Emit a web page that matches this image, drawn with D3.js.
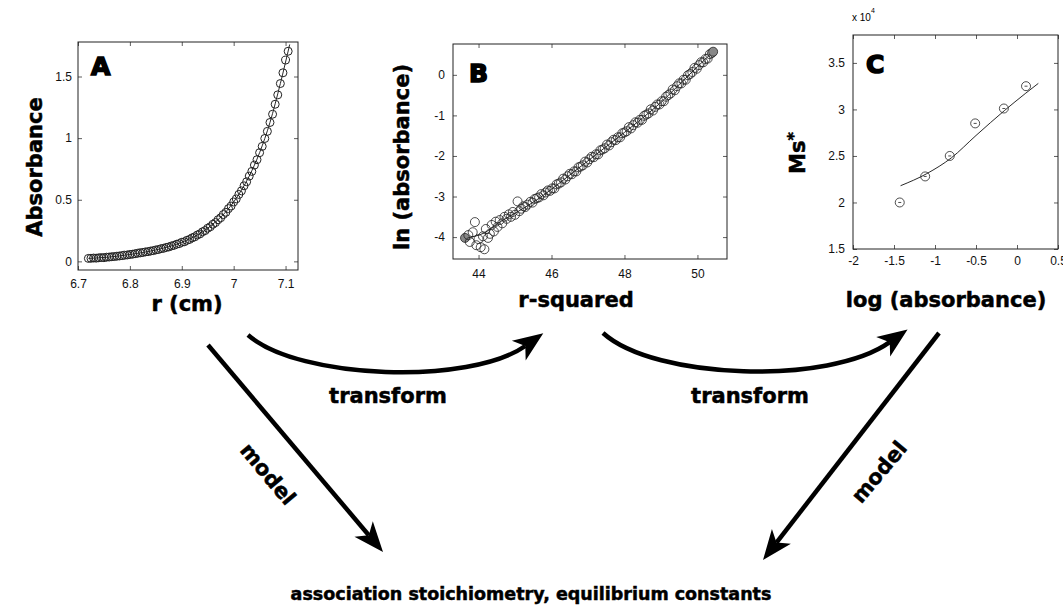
<!DOCTYPE html>
<html>
<head>
<meta charset="utf-8">
<script src="https://cdn.jsdelivr.net/npm/d3@7"></script>
<style>
  body { margin: 0; background: #fff; }
  svg { display: block; }
</style>
</head>
<body>
<div id="chart"></div>
<script>
// ---- panel A : absorbance vs radius ----
const radiusA = [6.720, 6.725, 6.730, 6.735, 6.740, 6.745, 6.750, 6.755, 6.760, 6.765,
    6.770, 6.775, 6.780, 6.785, 6.790, 6.795, 6.800, 6.805, 6.810, 6.815,
    6.820, 6.825, 6.830, 6.835, 6.840, 6.845, 6.850, 6.855, 6.860, 6.865,
    6.870, 6.875, 6.880, 6.885, 6.890, 6.895, 6.900, 6.905, 6.910, 6.915,
    6.920, 6.925, 6.930, 6.935, 6.940, 6.945, 6.950, 6.955, 6.960, 6.965,
    6.970, 6.975, 6.980, 6.985, 6.990, 6.995, 7.000, 7.005, 7.010, 7.015,
    7.020, 7.025, 7.030, 7.035, 7.040, 7.045, 7.050, 7.055, 7.060, 7.065,
    7.070, 7.075, 7.080, 7.085, 7.090, 7.095, 7.100, 7.105];
const absorbA = [0.024, 0.025, 0.027, 0.026, 0.029, 0.031, 0.030, 0.034, 0.035, 0.038,
    0.039, 0.042, 0.044, 0.047, 0.050, 0.052, 0.056, 0.058, 0.062, 0.066,
    0.069, 0.072, 0.077, 0.079, 0.084, 0.087, 0.093, 0.096, 0.103, 0.106,
    0.113, 0.117, 0.125, 0.130, 0.139, 0.144, 0.155, 0.159, 0.171, 0.178,
    0.191, 0.199, 0.214, 0.223, 0.240, 0.250, 0.269, 0.281, 0.301, 0.315,
    0.338, 0.354, 0.380, 0.398, 0.428, 0.449, 0.482, 0.507, 0.543, 0.572,
    0.613, 0.646, 0.692, 0.730, 0.781, 0.825, 0.882, 0.933, 0.997, 1.055,
    1.127, 1.194, 1.275, 1.351, 1.443, 1.530, 1.633, 1.705];
const fitRadiusA = [6.72, 6.76, 6.80, 6.85, 6.90, 6.95, 7.00, 7.03, 7.05, 7.07, 7.09, 7.108];
const fitAbsorbA = [0.024, 0.035, 0.056, 0.093, 0.155, 0.269, 0.482, 0.692, 0.882, 1.127, 1.443, 1.76];
const xTicksA = [6.7, 6.8, 6.9, 7, 7.1];
const yTicksA = [0, 0.5, 1, 1.5];

// ---- panel B : ln(absorbance) vs r-squared ----
const rsqB = [43.63, 43.72, 43.76, 43.84, 43.90, 43.94, 44.00, 44.06, 44.12, 44.16,
    44.20, 44.26, 44.31, 44.36, 44.42, 44.47, 44.52, 44.58, 44.65, 44.71,
    44.77, 44.83, 44.89, 44.94, 45.00, 45.07, 45.12, 45.17, 45.23, 45.28,
    45.34, 45.42, 45.48, 45.54, 45.60, 45.66, 45.72, 45.78, 45.84, 45.90,
    45.96, 46.02, 46.08, 46.14, 46.20, 46.26, 46.32, 46.38, 46.44, 46.50,
    46.56, 46.62, 46.68, 46.74, 46.80, 46.86, 46.92, 46.98, 47.04, 47.10,
    47.16, 47.22, 47.28, 47.34, 47.40, 47.46, 47.52, 47.58, 47.64, 47.70,
    47.76, 47.82, 47.88, 47.94, 48.00, 48.06, 48.12, 48.18, 48.24, 48.30,
    48.36, 48.42, 48.48, 48.54, 48.60, 48.66, 48.72, 48.78, 48.84, 48.90,
    48.96, 49.02, 49.08, 49.14, 49.20, 49.26, 49.32, 49.38, 49.44, 49.50,
    49.56, 49.62, 49.68, 49.74, 49.80, 49.86, 49.92, 49.98, 50.04, 50.10,
    50.16, 50.22, 50.28, 50.34, 50.40, 50.43];
const lnAbsB = [-4.02, -3.95, -4.12, -3.88, -3.63, -4.20, -4.05, -4.25, -3.98, -4.30,
    -3.80, -4.02, -3.92, -3.70, -3.86, -3.62, -3.75, -3.58, -3.66, -3.50,
    -3.55, -3.44, -3.50, -3.38, -3.45, -3.12, -3.36, -3.30, -3.24, -3.26,
    -3.20, -3.13, -3.15, -3.06, -3.04, -3.02, -2.94, -2.97, -2.90, -2.85,
    -2.86, -2.80, -2.80, -2.70, -2.68, -2.65, -2.56, -2.58, -2.50, -2.44,
    -2.45, -2.38, -2.38, -2.28, -2.26, -2.23, -2.14, -2.16, -2.08, -2.02,
    -2.03, -1.96, -1.96, -1.86, -1.84, -1.81, -1.72, -1.74, -1.66, -1.60,
    -1.61, -1.54, -1.54, -1.44, -1.42, -1.39, -1.29, -1.32, -1.24, -1.17,
    -1.18, -1.11, -1.11, -1.01, -0.98, -0.95, -0.85, -0.88, -0.79, -0.73,
    -0.73, -0.65, -0.65, -0.54, -0.50, -0.46, -0.36, -0.38, -0.28, -0.21,
    -0.21, -0.12, -0.12, -0.01, 0.02, 0.07, 0.17, 0.15, 0.24, 0.31,
    0.31, 0.39, 0.40, 0.51, 0.54, 0.57];
const fitRsqB = [43.63, 44.15, 44.6, 45.1, 45.6, 46.0, 46.5, 47.0, 47.5, 48.0, 48.5, 49.0, 49.5, 50.0, 50.43];
const fitLnAbsB = [-4.02, -3.90, -3.62, -3.36, -3.08, -2.82, -2.47, -2.12, -1.77, -1.42, -1.06, -0.68, -0.24, 0.20, 0.57];
const xTicksB = [44, 46, 48, 50];
const yTicksB = [-4, -3, -2, -1, 0];

// ---- panel C : Ms* (x 10^4) vs log(absorbance) ----
const logAbsC = [-1.43, -1.12, -0.82, -0.51, -0.16, 0.11];
const msC = [2.00, 2.28, 2.50, 2.85, 3.01, 3.25];
const fitLogAbsC = [-1.42, -1.10, -0.80, -0.50, -0.15, 0.10, 0.26];
const fitMsC = [2.18, 2.31, 2.48, 2.72, 2.99, 3.17, 3.28];
const xTicksC = [-2, -1.5, -1, -0.5, 0, 0.5];
const yTicksC = [1.5, 2, 2.5, 3, 3.5];

const W = 1063, H = 609;
const labelFont = 'DejaVu Sans';
const tickFont = 'Liberation Sans, Arial, sans-serif';

const svg = d3.select('#chart').append('svg')
    .attr('width', W)
    .attr('height', H);

svg.append('defs').append('marker')
    .attr('id', 'head')
    .attr('viewBox', '-32 -14 34 28')
    .attr('refX', -22)
    .attr('refY', 0)
    .attr('markerWidth', 34)
    .attr('markerHeight', 28)
    .attr('markerUnits', 'userSpaceOnUse')
    .attr('orient', 'auto')
    .append('path')
    .attr('d', 'M0,0 L-30,-12 L-22,0 L-30,12 Z')
    .attr('fill', '#000');

// heavy black label text (the original uses a black-weight face)
function heavy(sel, size) {
    return sel.style('font-family', labelFont)
        .style('font-weight', '700')
        .style('font-size', size + 'px')
        .attr('stroke', '#000')
        .attr('stroke-width', 0.5);
}

function drawPanel(p) {
    const x = d3.scaleLinear().domain(p.xDomain).range([p.left, p.right]);
    const y = d3.scaleLinear().domain(p.yDomain).range([p.bottom, p.top]);
    const g = svg.append('g').attr('class', 'panel');

    // matlab style axes: inward ticks on all four sides
    g.append('g').attr('transform', `translate(0,${p.bottom})`)
        .call(d3.axisBottom(x).tickValues(p.xTicks).tickSizeInner(-4).tickSizeOuter(0)
            .tickPadding(p.xPad).tickFormat(String));
    g.append('g').attr('transform', `translate(0,${p.top})`)
        .call(d3.axisTop(x).tickValues(p.xTicks).tickSizeInner(-4).tickSizeOuter(0).tickFormat(''));
    g.append('g').attr('transform', `translate(${p.left},0)`)
        .call(d3.axisLeft(y).tickValues(p.yTicks).tickSizeInner(-4).tickSizeOuter(0)
            .tickPadding(p.yPad).tickFormat(String));
    g.append('g').attr('transform', `translate(${p.right},0)`)
        .call(d3.axisRight(y).tickValues(p.yTicks).tickSizeInner(-4).tickSizeOuter(0).tickFormat(''));

    g.selectAll('.domain').remove();
    g.selectAll('.tick line').attr('stroke', '#333').attr('stroke-width', 0.8);
    g.selectAll('.tick text')
        .style('font-family', tickFont)
        .style('font-size', '12px')
        .attr('fill', '#111');

    g.append('rect')
        .attr('x', p.left).attr('y', p.top)
        .attr('width', p.right - p.left).attr('height', p.bottom - p.top)
        .attr('fill', 'none')
        .attr('stroke', '#222')
        .attr('stroke-width', 1);

    // fitted curve
    const line = d3.line().x(d => x(d[0])).y(d => y(d[1])).curve(d3.curveMonotoneX);
    g.append('path')
        .datum(d3.zip(p.fitX, p.fitY))
        .attr('d', line)
        .attr('fill', 'none')
        .attr('stroke', '#111')
        .attr('stroke-width', 0.9);

    // data circles
    const n = p.dataX.length;
    g.selectAll('circle.pt').data(d3.zip(p.dataX, p.dataY))
        .join('circle')
        .attr('class', 'pt')
        .attr('cx', d => x(d[0]))
        .attr('cy', d => y(d[1]))
        .attr('r', p.r)
        .attr('fill', (d, i) => p.filledEnds && (i === 0 || i === n - 1) ? '#888' : 'none')
        .attr('stroke', '#222')
        .attr('stroke-width', p.sw);

    // panel letter
    g.append('text')
        .attr('x', p.letterPos[0]).attr('y', p.letterPos[1])
        .text(p.letter)
        .style('font-family', labelFont)
        .style('font-weight', '700')
        .style('font-size', '25px')
        .attr('stroke', '#000')
        .attr('stroke-width', 1.6);

    // axis titles
    heavy(g.append('text'), 21)
        .attr('x', p.xTitle[0]).attr('y', p.xTitle[1])
        .attr('text-anchor', 'middle')
        .text(p.xLabel);

    const yt = heavy(g.append('text'), 21)
        .attr('transform', `translate(${p.yTitle[0]},${p.yTitle[1]}) rotate(-90)`)
        .attr('text-anchor', 'middle');
    yt.append('tspan').text(p.yLabel);
    if (p.yStar) {
        yt.append('tspan').attr('dy', -6).style('font-size', '16px').text('*');
    }

    return {x, y, g};
}

drawPanel({
    left: 78, right: 298, top: 42, bottom: 270,
    xDomain: [6.7, 7.124], yDomain: [-0.07, 1.78],
    xTicks: xTicksA, yTicks: yTicksA, xPad: 9.5, yPad: 6,
    dataX: radiusA, dataY: absorbA, fitX: fitRadiusA, fitY: fitAbsorbA, r: 4, sw: 1,
    letter: 'A', letterPos: [91, 75],
    xLabel: 'r (cm)', xTitle: [187, 311],
    yLabel: 'Absorbance', yTitle: [42, 167]
});

drawPanel({
    left: 453, right: 727, top: 44, bottom: 259,
    xDomain: [43.30, 50.81], yDomain: [-4.54, 0.76],
    xTicks: xTicksB, yTicks: yTicksB, xPad: 10.5, yPad: 8,
    dataX: rsqB, dataY: lnAbsB, fitX: fitRsqB, fitY: fitLnAbsB, r: 4.5, sw: 0.8, filledEnds: true,
    letter: 'B', letterPos: [469, 82],
    xLabel: 'r-squared', xTitle: [576, 307],
    yLabel: 'ln (absorbance)', yTitle: [409, 157]
});

const pc = drawPanel({
    left: 853, right: 1058, top: 35, bottom: 249,
    xDomain: [-2, 0.5], yDomain: [1.5, 3.8],
    xTicks: xTicksC, yTicks: yTicksC, xPad: 7.5, yPad: 8,
    dataX: logAbsC, dataY: msC, fitX: fitLogAbsC, fitY: fitMsC, r: 4.5, sw: 0.8,
    letter: 'C', letterPos: [866, 73],
    xLabel: 'log (absorbance)', xTitle: [946, 307],
    yLabel: 'Ms', yStar: true, yTitle: [805, 153]
});

// small dash inside the panel C circles
pc.g.selectAll('line.dash').data(d3.zip(logAbsC, msC))
    .join('line')
    .attr('class', 'dash')
    .attr('x1', d => pc.x(d[0]) - 1.5)
    .attr('x2', d => pc.x(d[0]) + 1.5)
    .attr('y1', d => pc.y(d[1]))
    .attr('y2', d => pc.y(d[1]))
    .attr('stroke', '#222')
    .attr('stroke-width', 0.8);

// exponent label of panel C
const expo = svg.append('text')
    .attr('x', 852).attr('y', 21)
    .style('font-family', tickFont)
    .style('font-size', '10px');
expo.append('tspan').text('x 10');
expo.append('tspan').attr('dy', -8).style('font-size', '7px').text('4');

// arrows between the panels
const arrows = [
    'M248,335 C300,380 470,385 525.3,346',
    'M603,333 C655,380 830,385 889.7,342.2',
    'M208,345 L368.8,535.2',
    'M939,333 L776.5,542.6'
];
svg.append('g').selectAll('path').data(arrows)
    .join('path')
    .attr('d', d => d)
    .attr('fill', 'none')
    .attr('stroke', '#000')
    .attr('stroke-width', 4.5)
    .attr('marker-end', 'url(#head)');

const notes = [
    {text: 'transform', x: 388, y: 403, rot: 0},
    {text: 'transform', x: 750, y: 403, rot: 0},
    {text: 'model', x: 268, y: 474, rot: 50},
    {text: 'model', x: 879, y: 472, rot: -50}
];
heavy(svg.append('g').selectAll('text').data(notes).join('text'), 21)
    .attr('transform', d => `translate(${d.x},${d.y}) rotate(${d.rot})`)
    .attr('dy', d => d.rot ? '0.35em' : 0)
    .attr('text-anchor', 'middle')
    .text(d => d.text);

heavy(svg.append('text'), 17.5)
    .attr('x', 531).attr('y', 600)
    .attr('text-anchor', 'middle')
    .text('association stoichiometry, equilibrium constants');
</script>
</body>
</html>
